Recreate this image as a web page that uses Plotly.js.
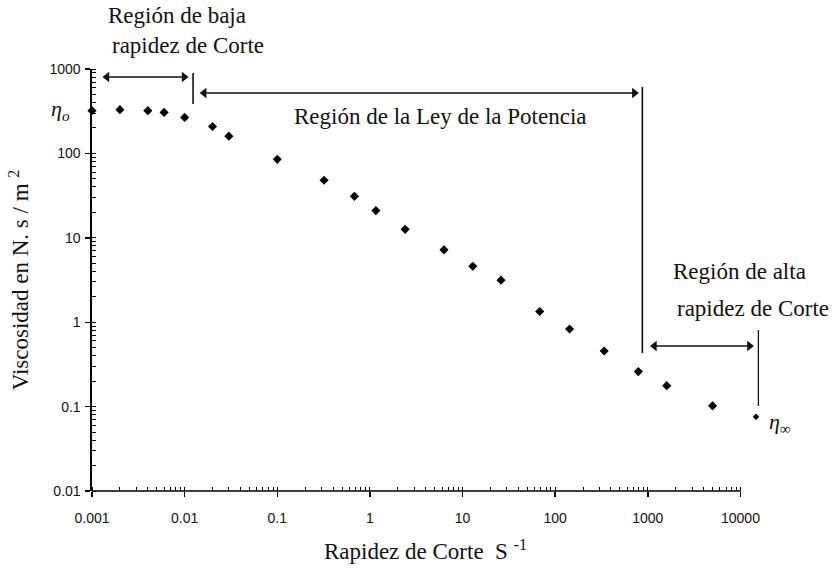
<!DOCTYPE html>
<html>
<head>
<meta charset="utf-8">
<script src="https://cdn.plot.ly/plotly-3.0.1.min.js"></script>
<style>html,body{margin:0;padding:0;background:#fff;}#chart{width:833px;height:571px;}</style>
</head>
<body>
<div id="chart"></div>
<script>
// Shear rate (s^-1) and viscosity (N.s/m^2)
const shearRate = [0.001, 0.002, 0.004, 0.006, 0.01, 0.02, 0.03, 0.1, 0.32, 0.68, 1.16, 2.4, 6.3, 12.9, 26, 68, 143, 338, 790, 1600, 5000];
const viscosity = [321, 330, 321, 306, 267, 208, 160, 85, 48, 31, 21, 12.6, 7.2, 4.6, 3.15, 1.34, 0.83, 0.456, 0.26, 0.177, 0.102];
// eta-infinity point (just beyond the right end of the drawn axis)
const etaInfRate = [14700];
const etaInfVisc = [0.076];

const xTickVals = [0.001, 0.01, 0.1, 1, 10, 100, 1000, 10000];
const xTickText = ['0.001', '0.01', '0.1', '1', '10', '100', '1000', '10000'];
const yTickVals = [0.01, 0.1, 1, 10, 100, 1000];
const yTickText = ['0.01', '0.1', '1', '10', '100', '1000'];

// Region markers (shear-rate spans and heights of the bracket arrows)
const lowArrowX = [0.00145, 0.00986];     const lowArrowY = 803;
const powerArrowX = [0.01622, 716];       const powerArrowY = 520;
const highArrowX = [1178, 12500];         const highArrowY = 0.522;
const lowBound = {x: 0.01233, y: [897, 385]};
const powerBound = {x: 873, y: [612, 0.4315]};
const highBound = {x: 15670, y: [0.809, 0.1016]};

const serif = 'Liberation Serif, Times New Roman, serif';
const sans = 'Liberation Sans, Arial, sans-serif';
const ink = '#111';

function arrow(xs, y) {
  return {x: xs, y: [y, y], type: 'scatter', mode: 'lines+markers', cliponaxis: false,
    line: {color: ink, width: 1.6},
    marker: {symbol: ['triangle-left', 'triangle-right'], size: 9, color: ink},
    hoverinfo: 'skip', showlegend: false};
}

const traces = [
  {x: shearRate, y: viscosity, type: 'scatter', mode: 'markers', cliponaxis: false,
   marker: {symbol: 'diamond', size: 7, color: '#000'}, hoverinfo: 'x+y', showlegend: false},
  {x: etaInfRate, y: etaInfVisc, type: 'scatter', mode: 'markers', cliponaxis: false,
   marker: {symbol: 'diamond', size: 5, color: '#000'}, hoverinfo: 'x+y', showlegend: false},
  arrow(lowArrowX, lowArrowY),
  arrow(powerArrowX, powerArrowY),
  arrow(highArrowX, highArrowY)
];

function vline(b) {
  return {type: 'line', xref: 'x', yref: 'y', x0: b.x, x1: b.x, y0: b.y[0], y1: b.y[1],
    line: {color: ink, width: 1.6}};
}
const L = 92, R = 74, T = 69, B = 80, W = 833, H = 571;
function px(xp) { return (xp - L) / (W - L - R); }
function py(yp) { return (H - B - yp) / (H - T - B); }
function txt(t, x, y, size) {
  return {text: t, x: px(x), y: py(y), xref: 'paper', yref: 'paper', showarrow: false,
    xanchor: 'left', yanchor: 'middle', font: {family: serif, size: size || 23, color: ink}};
}

const layout = {
  width: W, height: H,
  margin: {l: L, r: R, t: T, b: B},
  paper_bgcolor: '#fff', plot_bgcolor: '#fff',
  showlegend: false,
  xaxis: {
    type: 'log', range: [-3, 4.2], showgrid: false, zeroline: false,
    showline: false,
    tickmode: 'array', tickvals: xTickVals, ticktext: xTickText,
    ticks: 'outside', ticklen: 5, tickwidth: 1.4, tickcolor: '#000',
    ticklabelstandoff: 9,
    minor: {ticks: 'inside', ticklen: 4, tickwidth: 1, tickcolor: '#000', dtick: 'D1'},
    tickfont: {family: sans, size: 14, color: ink},
    title: {text: '\u2003\u2003Rapidez de Corte  S <sup>-1</sup>', standoff: 18,
            font: {family: serif, size: 23, color: ink}}
  },
  yaxis: {
    type: 'log', range: [-2, 3], showgrid: false, zeroline: false,
    showline: true, linecolor: '#000', linewidth: 1.6,
    tickmode: 'array', tickvals: yTickVals, ticktext: yTickText,
    ticks: 'outside', ticklen: 5, tickwidth: 1.4, tickcolor: '#000',
    ticklabelstandoff: 2,
    minor: {ticks: 'inside', ticklen: 4, tickwidth: 1, tickcolor: '#000', dtick: 'D1'},
    tickfont: {family: sans, size: 14, color: ink},
    title: {text: 'Viscosidad en N. s / m <sup>2</sup>', standoff: 14,
            font: {family: serif, size: 23, color: ink}}
  },
  shapes: [
    // x-axis line, drawn only from 0.001 to 10000 as in the reference
    {type: 'line', xref: 'x', yref: 'paper', x0: xTickVals[0], x1: xTickVals[xTickVals.length - 1],
     y0: 0, y1: 0, line: {color: '#000', width: 1.6}},
    vline(lowBound), vline(powerBound), vline(highBound)
  ],
  annotations: [
    txt('Región de baja', 106, 16),
    txt('rapidez de Corte', 110, 46),
    txt('Región de la Ley de la Potencia', 292, 116),
    txt('Región de alta', 671, 271),
    txt('rapidez de Corte', 675, 308),
    txt('<i>η</i><sub><i>o</i></sub>', 49, 110, 22),
    txt('<i>η</i><sub>∞</sub>', 767, 423, 22)
  ]
};

Plotly.newPlot('chart', traces, layout, {staticPlot: true, displayModeBar: false});
</script>
</body>
</html>
